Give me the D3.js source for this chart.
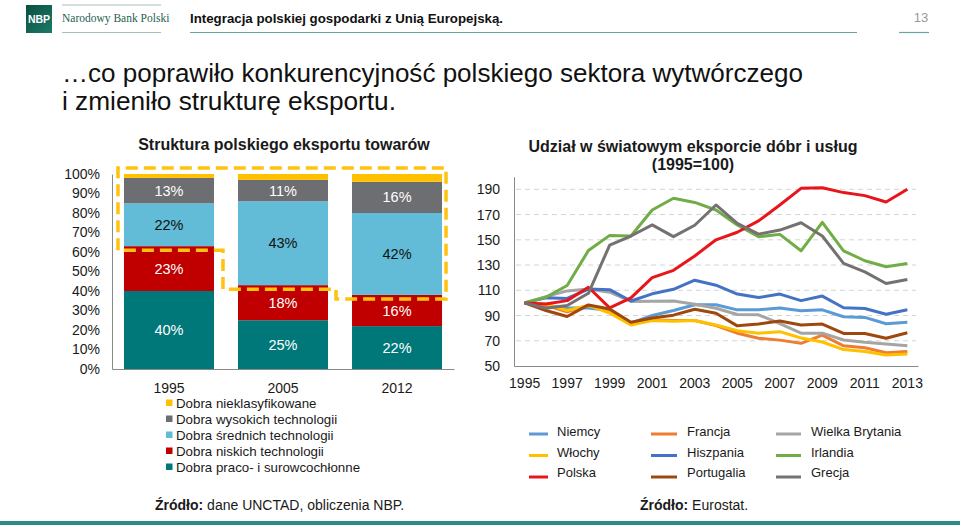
<!DOCTYPE html>
<html>
<head>
<meta charset="utf-8">
<script src="https://cdn.jsdelivr.net/npm/d3@7"></script>
<style>
  html, body { margin: 0; padding: 0; background: #fff; }
  svg { display: block; font-family: "Liberation Sans", Arial, sans-serif; }
</style>
</head>
<body>
<svg id="chart" width="960" height="525"></svg>
<script>
// ---------- DATA ----------
// Left chart: structure of Polish goods exports (%)
const barYears = ["1995", "2005", "2012"];
const pracoChlonne = [40, 25, 22];      // Dobra praco- i surowcochłonne
const niskieTech = [23, 18, 16];        // Dobra niskich technologii
const srednieTech = [22, 43, 42];       // Dobra średnich technologii
const wysokieTech = [13, 11, 16];       // Dobra wysokich technologii
const nieklasyfikowane = [2, 3, 4];     // Dobra nieklasyfikowane
const pctTicks = [0, 10, 20, 30, 40, 50, 60, 70, 80, 90, 100];

// Right chart: share in world exports of goods and services (1995=100)
const lineYears = ["1995","1996","1997","1998","1999","2000","2001","2002","2003","2004",
                   "2005","2006","2007","2008","2009","2010","2011","2012","2013"];
const niemcy     = [100, 98, 96, 96, 94, 84, 90, 94, 98.5, 98.5, 94.5, 94.5, 96, 93.8, 94.5, 89, 88.5, 83.5, 84.6];
const francja    = [100, 98, 93, 98, 94, 83.5, 86.5, 86, 86, 82, 76, 72, 70.5, 68, 74.5, 66, 64.5, 60.5, 61.5];
const wielkaBryt = [100, 105, 109.5, 111, 108.5, 101.2, 101.4, 101.5, 99, 95.8, 90.8, 90.6, 83.5, 76, 76, 70.6, 68.8, 67.4, 66];
const wlochy     = [100, 99, 94, 98, 92, 82.5, 86, 85.5, 86, 82.5, 78, 76, 77.2, 72.2, 69, 63, 61.5, 58.7, 59.5];
const hiszpania  = [100, 104, 103.5, 111, 110.5, 101.5, 107.2, 110.8, 118, 114, 107, 104.2, 107, 101.8, 105.4, 96.2, 95.6, 91, 94.6];
const irlandia   = [100, 104.5, 113.8, 141.5, 153.5, 153, 173.6, 182.9, 179.6, 173.6, 161.7, 152.4, 154.3, 141.3, 163.8, 141.3, 133.4, 128.6, 131.3];
const polska     = [100, 99.2, 101.8, 112.4, 96, 104, 120, 125.8, 137.2, 150, 156, 165, 177.6, 190.8, 191.2, 187.4, 185, 180, 190];
const portugalia = [100, 94, 89.2, 98.4, 95.2, 84.7, 88, 90.3, 95, 91.8, 81.8, 83.2, 85.6, 82.5, 83.2, 75.8, 75.8, 72, 76.3];
const grecja     = [100, 95.8, 97.9, 107.6, 145.8, 153, 161.8, 152.5, 161.5, 177.6, 163, 154.5, 157.7, 163.5, 153, 131.3, 124.6, 115.4, 118.5];
const indexTicks = [50, 70, 90, 110, 130, 150, 170, 190];
const yearLabelTicks = ["1995","1997","1999","2001","2003","2005","2007","2009","2011","2013"];

// ---------- BUILD ----------
const svg = d3.select("#chart");
const TXT = "#1a1a1a";
const FONT = "'Liberation Sans', Arial, sans-serif";

// Header
const logoGrad = svg.append("defs").append("linearGradient").attr("id", "lg")
  .attr("x1", 0).attr("y1", 0).attr("x2", 1).attr("y2", 1);
logoGrad.append("stop").attr("offset", "0%").attr("stop-color", "#0b4f42");
logoGrad.append("stop").attr("offset", "100%").attr("stop-color", "#1b7a66");
svg.append("rect").attr("x", 26).attr("y", 5).attr("width", 26).attr("height", 28).attr("fill", "url(#lg)");
svg.append("text").attr("x", 39).attr("y", 23).attr("text-anchor", "middle")
  .attr("fill", "#fff").attr("font-size", 10.5).attr("font-weight", "bold").text("NBP");
svg.append("line").attr("x1", 62).attr("x2", 161).attr("y1", 5).attr("y2", 5).attr("stroke", "#a9bdb8").attr("stroke-width", 1);
svg.append("line").attr("x1", 62).attr("x2", 161).attr("y1", 32.5).attr("y2", 32.5).attr("stroke", "#a9bdb8").attr("stroke-width", 1);
svg.append("text").attr("x", 62).attr("y", 22).attr("fill", "#1f5f50")
  .attr("font-family", "'Liberation Serif', 'DejaVu Serif', serif").attr("font-size", 11.5)
  .text("Narodowy Bank Polski");
svg.append("text").attr("x", 190).attr("y", 22.5).attr("fill", "#111")
  .attr("font-size", 13.5).attr("font-weight", "bold")
  .attr("textLength", 313).attr("lengthAdjust", "spacingAndGlyphs")
  .text("Integracja polskiej gospodarki z Unią Europejską.");
svg.append("line").attr("x1", 190).attr("x2", 857).attr("y1", 32.5).attr("y2", 32.5).attr("stroke", "#6aa6a1").attr("stroke-width", 1.2);
svg.append("text").attr("x", 921).attr("y", 22).attr("text-anchor", "middle").attr("fill", "#9a9a9a")
  .attr("font-size", 13).text("13");
svg.append("line").attr("x1", 899).attr("x2", 929).attr("y1", 32.5).attr("y2", 32.5).attr("stroke", "#6aa6a1").attr("stroke-width", 1.2);

// Main title
svg.append("text").attr("x", 62).attr("y", 82).attr("fill", "#111").attr("font-size", 25.5)
  .attr("textLength", 741).attr("lengthAdjust", "spacingAndGlyphs")
  .text("…co poprawiło konkurencyjność polskiego sektora wytwórczego");
svg.append("text").attr("x", 62).attr("y", 110).attr("fill", "#111").attr("font-size", 25.5)
  .attr("textLength", 334).attr("lengthAdjust", "spacingAndGlyphs")
  .text("i zmieniło strukturę eksportu.");

// Bottom strip
svg.append("rect").attr("x", 0).attr("y", 521).attr("width", 960).attr("height", 4).attr("fill", "#2c8b86");

// ---------- LEFT CHART ----------
const segKeys = ["praco", "niskie", "srednie", "wysokie", "niekl"];
const segNames = {
  niekl: "Dobra nieklasyfikowane", wysokie: "Dobra wysokich technologii",
  srednie: "Dobra średnich technologii", niskie: "Dobra niskich technologii",
  praco: "Dobra praco- i surowcochłonne"
};
const segColors = { praco: "#00787a", niskie: "#c00000", srednie: "#62bcd7", wysokie: "#6d6e71", niekl: "#ffc000" };
const segText = { praco: "#fff", niskie: "#fff", srednie: "#111", wysokie: "#fff" };
const barRows = barYears.map((y, i) => ({
  year: y, praco: pracoChlonne[i], niskie: niskieTech[i], srednie: srednieTech[i],
  wysokie: wysokieTech[i], niekl: nieklasyfikowane[i]
}));
const stacked = d3.stack().keys(segKeys)(barRows);

const xL = d3.scaleBand().domain(barYears).range([112, 454]).paddingInner(0.2105).paddingOuter(0.105);
const yL = d3.scaleLinear().domain([0, 100]).range([369, 174]);

svg.append("text").attr("x", 284).attr("y", 150).attr("text-anchor", "middle")
  .attr("font-size", 16).attr("font-weight", "bold").attr("fill", TXT)
  .text("Struktura polskiego eksportu towarów");

const gL = svg.append("g");
stacked.forEach(layer => {
  gL.append("g").selectAll("rect").data(layer).join("rect")
    .attr("x", d => xL(d.data.year))
    .attr("width", xL.bandwidth())
    .attr("y", d => yL(d[1]))
    .attr("height", d => yL(d[0]) - yL(d[1]))
    .attr("fill", segColors[layer.key]);
  if (layer.key !== "niekl") {
    gL.append("g").selectAll("text").data(layer).join("text")
      .attr("x", d => xL(d.data.year) + xL.bandwidth() / 2)
      .attr("y", d => yL((d[0] + d[1]) / 2) + 5)
      .attr("text-anchor", "middle").attr("font-size", 14.5)
      .attr("fill", segText[layer.key])
      .text(d => d.data[layer.key] + "%");
  }
});

// axes left
const axL = d3.axisLeft(yL).tickValues(pctTicks).tickFormat(d => d + "%").tickSize(0).tickPadding(12);
const gAxL = svg.append("g").attr("transform", "translate(112,0)").call(axL);
gAxL.select(".domain").attr("stroke", "#8a8a8a");
gAxL.selectAll("text").attr("font-size", 14).attr("fill", TXT).attr("font-family", FONT);
const axLB = d3.axisBottom(xL).tickSize(0).tickPadding(14);
const gAxLB = svg.append("g").attr("transform", "translate(0,369)").call(axLB);
gAxLB.select(".domain").attr("stroke", "#8a8a8a");
gAxLB.selectAll("text").attr("font-size", 14).attr("fill", TXT).attr("font-family", FONT);

// dashed outline around medium/high-tech area
const bw = xL.bandwidth();
const cumLow = barYears.map((y, i) => pracoChlonne[i] + niskieTech[i]);
const lx = xL(barYears[0]) - 6, rx = xL(barYears[2]) + bw + 4, ty = yL(100) - 6;
const m1 = (xL(barYears[0]) + bw + xL(barYears[1])) / 2 - 3;
const m2 = (xL(barYears[1]) + bw + xL(barYears[2])) / 2 - 4;
const b = cumLow.map(v => yL(v) + 4);
const outline = [[lx, b[0]], [lx, ty], [rx, ty], [rx, b[2]], [m2, b[2]], [m2, b[1]], [m1, b[1]], [m1, b[0]], [lx, b[0]]];
svg.append("path").attr("d", d3.line()(outline)).attr("fill", "none")
  .attr("stroke", "#ffc20e").attr("stroke-width", 3.5).attr("stroke-dasharray", "12,6");

// legend left
const legL = ["niekl", "wysokie", "srednie", "niskie", "praco"];
const gLegL = svg.append("g").selectAll("g").data(legL).join("g")
  .attr("transform", (d, i) => `translate(166,${403 + i * 16})`);
gLegL.append("rect").attr("x", 0).attr("y", -3.5).attr("width", 6.5).attr("height", 6.5).attr("fill", d => segColors[d]);
gLegL.append("text").attr("x", 10).attr("y", 4.5).attr("font-size", 13.3).attr("fill", TXT).text(d => segNames[d]);

const src1 = svg.append("text").attr("x", 155).attr("y", 510).attr("font-size", 14).attr("fill", TXT);
src1.append("tspan").attr("font-weight", "bold").text("Źródło:");
src1.append("tspan").text(" dane UNCTAD, obliczenia NBP.");

// ---------- RIGHT CHART ----------
const seriesList = [
  { name: "Niemcy", values: niemcy, color: "#5b9bd5" },
  { name: "Francja", values: francja, color: "#ed7d31" },
  { name: "Wielka Brytania", values: wielkaBryt, color: "#a5a5a5" },
  { name: "Włochy", values: wlochy, color: "#ffc000" },
  { name: "Hiszpania", values: hiszpania, color: "#4472c4" },
  { name: "Irlandia", values: irlandia, color: "#70ad47" },
  { name: "Polska", values: polska, color: "#e8161b" },
  { name: "Portugalia", values: portugalia, color: "#9e480e" },
  { name: "Grecja", values: grecja, color: "#767171" }
];

const xR = d3.scaleBand().domain(lineYears).range([514, 918]);
const yR = d3.scaleLinear().domain([50, 200]).range([366, 176.7]);
const cx = y => xR(y) + xR.bandwidth() / 2;

svg.append("text").attr("x", 693).attr("y", 152).attr("text-anchor", "middle")
  .attr("font-size", 16).attr("font-weight", "bold").attr("fill", TXT)
  .text("Udział w światowym eksporcie dóbr i usług");
svg.append("text").attr("x", 693).attr("y", 170).attr("text-anchor", "middle")
  .attr("font-size", 16).attr("font-weight", "bold").attr("fill", TXT)
  .text("(1995=100)");

// gridlines
svg.append("g").selectAll("line").data(indexTicks.filter(t => t > 50)).join("line")
  .attr("x1", 516).attr("x2", 916).attr("y1", d => yR(d)).attr("y2", d => yR(d))
  .attr("stroke", "#d4d4d4").attr("stroke-width", 1).attr("stroke-dasharray", "5,4");

const axR = d3.axisLeft(yR).tickValues(indexTicks).tickSize(0).tickPadding(14);
const gAxR = svg.append("g").attr("transform", "translate(514,0)").call(axR);
gAxR.select(".domain").attr("stroke", "#8a8a8a");
gAxR.selectAll("text").attr("font-size", 14).attr("fill", TXT).attr("font-family", FONT);
const axRB = d3.axisBottom(xR).tickValues(yearLabelTicks).tickSize(0).tickPadding(12);
const gAxRB = svg.append("g").attr("transform", "translate(0,366)").call(axRB);
gAxRB.select(".domain").attr("stroke", "#8a8a8a");
gAxRB.selectAll("text").attr("font-size", 14).attr("fill", TXT).attr("font-family", FONT);

const line = d3.line().x((d, i) => cx(lineYears[i])).y(d => yR(d));
svg.append("g").selectAll("path").data(seriesList).join("path")
  .attr("d", d => line(d.values)).attr("fill", "none")
  .attr("stroke", d => d.color).attr("stroke-width", 3).attr("stroke-linejoin", "round");

// legend right (row-major 3x3)
const colX = [529, 651, 776];
const colLen = [19, 26, 25];
const colTx = [557, 687, 811];
const gLegR = svg.append("g").selectAll("g").data(seriesList).join("g");
gLegR.append("line")
  .attr("x1", (d, i) => colX[i % 3]).attr("x2", (d, i) => colX[i % 3] + colLen[i % 3])
  .attr("y1", (d, i) => 434 + Math.floor(i / 3) * 21.5).attr("y2", (d, i) => 434 + Math.floor(i / 3) * 21.5)
  .attr("stroke", d => d.color).attr("stroke-width", 3);
gLegR.append("text")
  .attr("x", (d, i) => colTx[i % 3]).attr("y", (d, i) => 436 + Math.floor(i / 3) * 20.5)
  .attr("font-size", 13).attr("fill", TXT).text(d => d.name);

const src2 = svg.append("text").attr("x", 640).attr("y", 510).attr("font-size", 14).attr("fill", TXT);
src2.append("tspan").attr("font-weight", "bold").text("Źródło:");
src2.append("tspan").text(" Eurostat.");
</script>
</body>
</html>
